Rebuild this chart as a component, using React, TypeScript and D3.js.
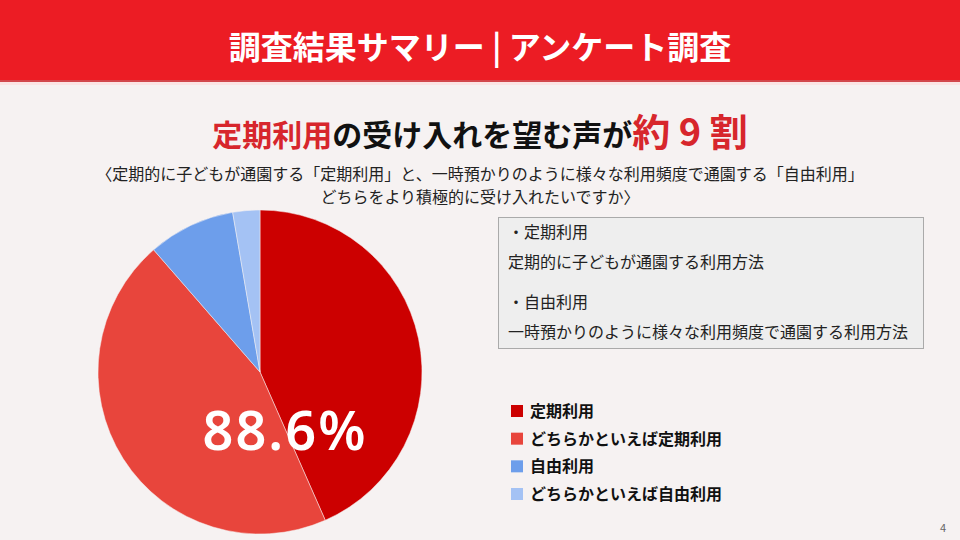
import React from "react";
import * as d3 from "d3";

const categories = ["定期利用", "どちらかといえば定期利用", "自由利用", "どちらかといえば自由利用"];
const values = [43.4, 45.2, 8.7, 2.7];
const colors = ["#CC0000", "#E8453C", "#6D9EEB", "#A4C2F4"];
const highlightLabel = "88.6%";
const boxLines = ["・定期利用", "定期的に子どもが通園する利用方法", "・自由利用", "一時預かりのように様々な利用頻度で通園する利用方法"];

const FONT = "'Noto Sans CJK JP', 'Noto Sans', sans-serif";

export default function App() {
  const W = 960, H = 540;
  const cx = 260, cy = 372, r = 162;
  const pie = d3.pie<number>().sort(null).value((d) => d);
  const arcs = pie(values);
  const arc = d3.arc<d3.PieArcDatum<number>>().innerRadius(0).outerRadius(r);

  const legendY = d3.scalePoint<string>().domain(categories).range([411, 494]);

  return (
    <svg width={W} height={H} style={{ position: "absolute", left: 0, top: 0, fontFamily: FONT }}>
      <rect x={0} y={0} width={W} height={H} fill="#F6F2F2" />
      <rect x={0} y={0} width={W} height={82} fill="#EC1C24" />
      <rect x={0} y={80} width={W} height={2} fill="#D2474C" />
      <rect x={0} y={82} width={W} height={3} fill="#FBE4E4" />
      <text x={480} y={59} textAnchor="middle" fill="#FFFFFF" fontSize={32} fontWeight={700}>
        調査結果サマリー | アンケート調査
      </text>

      <text x={480} y={146} textAnchor="middle" fontSize={30} fontWeight={700} fill="#111">
        <tspan fill="#D7262C">定期利用</tspan>
        <tspan>の受け入れを望む声が</tspan>
        <tspan fill="#D7262C" fontSize={38}>約 9 割</tspan>
      </text>
      <text x={480} y={180} textAnchor="middle" fontSize={16} fill="#222">
        〈定期的に子どもが通園する「定期利用」と、一時預かりのように様々な利用頻度で通園する「自由利用」
      </text>
      <text x={480} y={203} textAnchor="middle" fontSize={16} fill="#222">
        どちらをより積極的に受け入れたいですか〉
      </text>

      <g transform={`translate(${cx},${cy})`}>
        {arcs.map((a, i) => (
          <path key={i} d={arc(a) || ""} fill={colors[i]} stroke="#F6F2F2" strokeWidth={0.5} />
        ))}
      </g>
      <text x={285} y={450} textAnchor="middle" fontSize={54} fontWeight={600} letterSpacing={2} fill="#FFFFFF" fontFamily="'Noto Sans', sans-serif">
        {highlightLabel}
      </text>

      <rect x={498.5} y={217.5} width={425} height={131} fill="#EEEEEE" stroke="#AAAAAA" strokeWidth={1} />
      {boxLines.map((t, i) => (
        <text key={i} x={508} y={[238, 268, 308, 338][i]} fontSize={16} fill="#222">
          {t}
        </text>
      ))}

      {categories.map((c, i) => (
        <g key={c}>
          <rect x={511} y={(legendY(c) as number) - 6} width={12} height={12} fill={colors[i]} />
          <text x={530} y={(legendY(c) as number) + 6} fontSize={16} fontWeight={700} fill="#111">
            {c}
          </text>
        </g>
      ))}

      <text x={946} y={532} textAnchor="end" fontSize={11} fill="#666">4</text>
    </svg>
  );
}
